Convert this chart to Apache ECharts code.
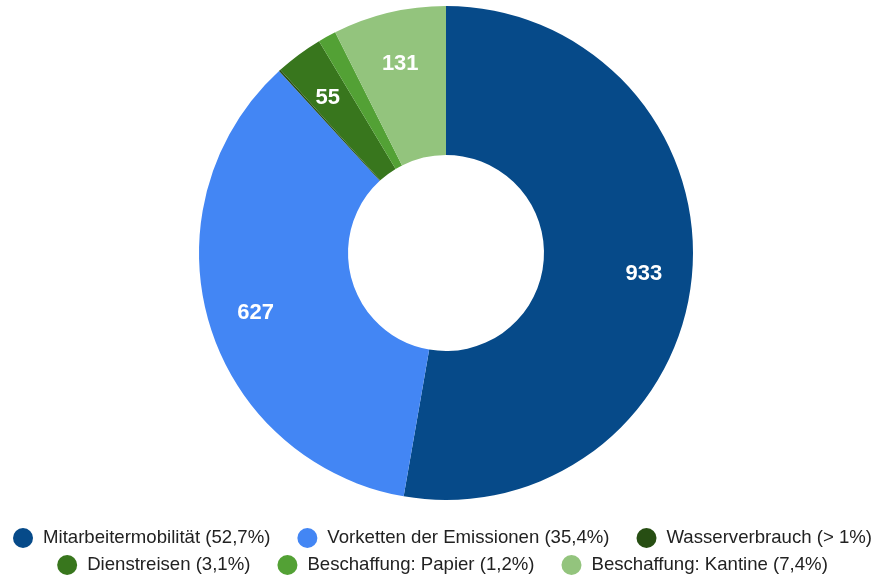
<!DOCTYPE html>
<html><head><meta charset="utf-8">
<script src="https://cdn.jsdelivr.net/npm/echarts@6/dist/echarts.min.js"></script>
<style>html,body{margin:0;padding:0;background:#fff}#c{width:885px;height:577px}</style>
</head><body><div id="c"></div>
<script>
const categories = ['Mitarbeitermobilität (52,7%)','Vorketten der Emissionen (35,4%)','Wasserverbrauch (> 1%)','Dienstreisen (3,1%)','Beschaffung: Papier (1,2%)','Beschaffung: Kantine (7,4%)'];
const values = [933, 627, 2, 55, 21, 131];
const showLabel = [true, true, false, true, false, true];
const colors = ['#064a89','#4386f4','#274e13','#38761d','#53a135','#93c47d'];

const chart = echarts.init(document.getElementById('c'));
const data = categories.map((n,i)=>({name:n, value:values[i], itemStyle:{color:colors[i]}}));
const labelData = categories.map((n,i)=>({name:n, value:values[i], label:{show:showLabel[i]}}));
const legendCommon = {
  orient:'horizontal', icon:'circle', itemWidth:20, itemHeight:20, itemGap:27,
  textStyle:{fontFamily:'Liberation Sans, Arial', fontSize:18.6, color:'#222', padding:[0,0,0,5]},
  left:'center'
};
chart.setOption({
  animation:false,
  color: colors,
  legend:[
    Object.assign({}, legendCommon, {top:523, data:categories.slice(0,3)}),
    Object.assign({}, legendCommon, {top:550, data:categories.slice(3)})
  ],
  series:[
    {type:'pie', center:[446,253], radius:[98,247], startAngle:90, clockwise:true,
     label:{show:false}, labelLine:{show:false}, data:data, silent:true},
    {type:'pie', center:[446,257], radius:[144,247], startAngle:90, clockwise:true,
     itemStyle:{color:'rgba(0,0,0,0)'}, silent:true, legendHoverLink:false,
     label:{show:true, position:'inside', color:'#fff', fontWeight:'bold', fontSize:22, fontFamily:'Liberation Sans, Arial', formatter:p=>String(p.value)},
     labelLine:{show:false}, data:labelData}
  ]
});
</script></body></html>
